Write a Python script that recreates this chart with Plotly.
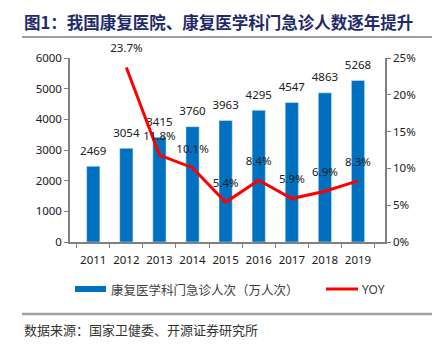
import plotly.graph_objects as go

years = ["2011", "2012", "2013", "2014", "2015", "2016", "2017", "2018", "2019"]
visits = [2469, 3054, 3415, 3760, 3963, 4295, 4547, 4863, 5268]
yoy_years = ["2012", "2013", "2014", "2015", "2016", "2017", "2018", "2019"]
yoy = [23.7, 11.8, 10.1, 5.4, 8.4, 5.9, 6.9, 8.3]

bar_name = "康复医学科门急诊人次（万人次）"
line_name = "YOY"
title = "图1：我国康复医院、康复医学科门急诊人数逐年提升"
source = "数据来源：国家卫健委、开源证券研究所"

font_main = "Noto Sans, Liberation Sans, sans-serif"
cjk = "Noto Sans CJK SC"
label_font = dict(size=11.5, color="#202020", family=font_main)

fig = go.Figure()
fig.add_trace(go.Bar(
    x=years, y=visits, name=bar_name, marker_color="#0070C0",
    width=0.4, showlegend=False,
))
# bar value labels
fig.add_trace(go.Scatter(
    x=years, y=visits, mode="markers+text",
    marker=dict(size=12, opacity=0),
    text=[str(v) for v in visits], textposition="top center",
    textfont=label_font, cliponaxis=False, showlegend=False, hoverinfo="skip",
))
fig.add_trace(go.Scatter(
    x=yoy_years, y=yoy, name=line_name, yaxis="y2", mode="lines",
    line=dict(color="#FF0000", width=3), showlegend=False,
))
fig.add_trace(go.Scatter(
    x=yoy_years, y=yoy, yaxis="y2", mode="markers+text",
    marker=dict(size=18, opacity=0),
    text=[f"{v:.1f}%" for v in yoy], textposition="top center",
    textfont=label_font, cliponaxis=False, showlegend=False, hoverinfo="skip",
))

tick_font = dict(size=11.5, color="#202020", family=font_main)
fig.update_layout(
    width=440, height=346,
    margin=dict(l=70, r=55, t=58, b=104),
    paper_bgcolor="white", plot_bgcolor="white",
    bargap=0.6,
    xaxis=dict(
        type="category", showline=True, linecolor="#808080", linewidth=1.5,
        ticks="outside", ticklen=4, tickcolor="#808080", tickson="boundaries",
        tickangle=0, ticklabelstandoff=6, tickfont=tick_font,
        showgrid=False,
    ),
    yaxis=dict(
        range=[0, 6000], dtick=1000, showline=True, linecolor="#808080",
        linewidth=1.5, ticks="outside", ticklen=4, tickcolor="#808080",
        tickfont=tick_font, showgrid=False, zeroline=False,
    ),
    yaxis2=dict(
        range=[0, 25], dtick=5, ticksuffix="%", overlaying="y", side="right",
        showline=True, linecolor="#808080", linewidth=1.5, ticks="outside",
        ticklen=4, tickcolor="#808080", tickfont=tick_font,
        showgrid=False, zeroline=False,
    ),
    showlegend=False,
)

# Title and separator lines
fig.add_annotation(text="<b>" + title + "</b>", xref="paper", yref="paper",
                   x=-0.152, y=1.0 + 36 / 184, xanchor="left", yanchor="middle",
                   showarrow=False, font=dict(size=16.5, color="#1F2A6B", family=cjk))
fig.add_shape(type="line", xref="paper", yref="paper",
              x0=-48 / 315, x1=362 / 315, y0=1 + 21 / 184, y1=1 + 21 / 184,
              line=dict(color="#404040", width=1.2))
fig.add_shape(type="line", xref="paper", yref="paper",
              x0=-48 / 315, x1=362 / 315, y0=-72 / 184, y1=-72 / 184,
              line=dict(color="#A0A0A0", width=2.5))
fig.add_annotation(text=source, xref="paper", yref="paper",
                   x=-48 / 315, y=-87 / 184, xanchor="left", yanchor="middle",
                   showarrow=False, font=dict(size=13, color="#333333", family=cjk))

# Custom legend
ly = -47 / 184
fig.add_shape(type="rect", xref="paper", yref="paper",
              x0=5 / 315, x1=36 / 315, y0=ly - 3 / 184, y1=ly + 3 / 184,
              fillcolor="#0070C0", line=dict(width=0))
fig.add_annotation(text=bar_name, xref="paper", yref="paper",
                   x=39 / 315, y=ly, xanchor="left", yanchor="middle",
                   showarrow=False, font=dict(size=12.5, color="#404040", family=cjk))
fig.add_shape(type="line", xref="paper", yref="paper",
              x0=256 / 315, x1=288 / 315, y0=ly, y1=ly,
              line=dict(color="#FF0000", width=3))
fig.add_annotation(text=line_name, xref="paper", yref="paper",
                   x=290 / 315, y=ly, xanchor="left", yanchor="middle",
                   showarrow=False, font=dict(size=12, color="#404040", family=font_main))

fig.write_html("out.html")
